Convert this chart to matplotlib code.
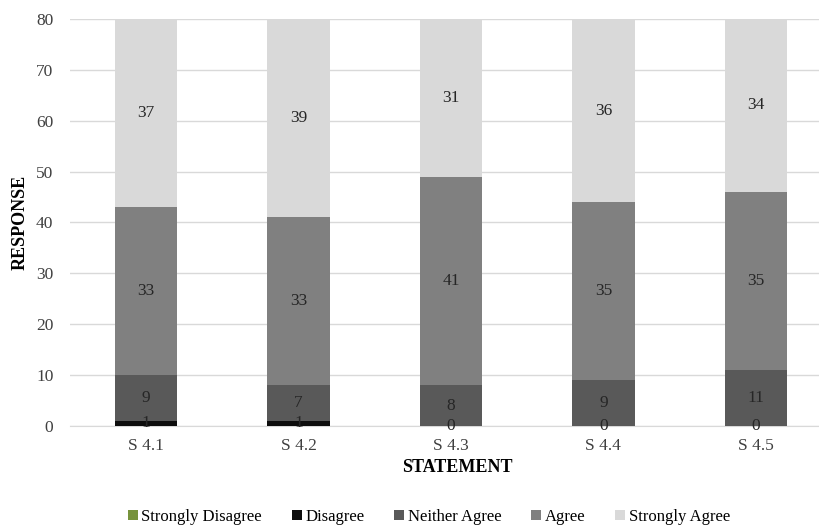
import numpy as np
import matplotlib.pyplot as plt

plt.rcParams['font.family'] = ['Liberation Serif', 'DejaVu Serif']

statements = ['S 4.1', 'S 4.2', 'S 4.3', 'S 4.4', 'S 4.5']
strongly_disagree = [0, 0, 0, 0, 0]
disagree = [1, 1, 0, 0, 0]
neither = [9, 7, 8, 9, 11]
agree = [33, 33, 41, 35, 35]
strongly_agree = [37, 39, 31, 36, 34]

series = [
    ('Strongly Disagree', strongly_disagree, '#77933c'),
    ('Disagree', disagree, '#0d0d0d'),
    ('Neither Agree', neither, '#595959'),
    ('Agree', agree, '#808080'),
    ('Strongly Agree', strongly_agree, '#d9d9d9'),
]

fig = plt.figure(figsize=(8.19, 5.28), dpi=100)
ax = fig.add_axes([70 / 819, 102 / 528, 762 / 819, 407 / 528])

x = np.arange(len(statements))
bottom = np.zeros(len(statements))
for name, vals, col in series:
    vals = np.array(vals, dtype=float)
    ax.bar(x, vals, 0.41, bottom=bottom, color=col, label=name, zorder=2)
    # data labels (strongly disagree zeros are not shown)
    if name != 'Strongly Disagree':
        for xi, b, v in zip(x, bottom, vals):
            ax.text(xi, b + v / 2, '%d' % v, ha='center', va='center',
                    fontsize=12.5, color='#262626', zorder=3)
    bottom += vals

ax.set_xlim(-0.5, 4.5)
ax.set_ylim(0, 80)
ax.set_yticks(range(0, 81, 10))
ax.set_xticks(x)
ax.set_xticklabels(statements)
ax.yaxis.grid(True, color='#d9d9d9', linewidth=1, zorder=0)
ax.set_axisbelow(True)
for s in ['top', 'right', 'left']:
    ax.spines[s].set_visible(False)
ax.spines['bottom'].set_color('#d9d9d9')
ax.spines['bottom'].set_zorder(1)
ax.tick_params(length=0, labelsize=12.5, colors='#404040')
ax.tick_params(axis='y', pad=12)
ax.tick_params(axis='x', pad=9)

ax.set_ylabel('RESPONSE', fontsize=13, fontweight='bold', labelpad=5)
fig.text(457 / 819, 1 - 468 / 528, 'STATEMENT', ha='center', va='center',
         fontsize=13, fontweight='bold')

handles, labels = ax.get_legend_handles_labels()
fig.legend(handles, labels, loc='center', bbox_to_anchor=(429 / 819, 1 - 517 / 528),
           ncol=5, frameon=False, fontsize=12, handlelength=0.6, handleheight=0.6,
           handletextpad=0.2, columnspacing=1.8)

fig.savefig('out.png', dpi=100)
